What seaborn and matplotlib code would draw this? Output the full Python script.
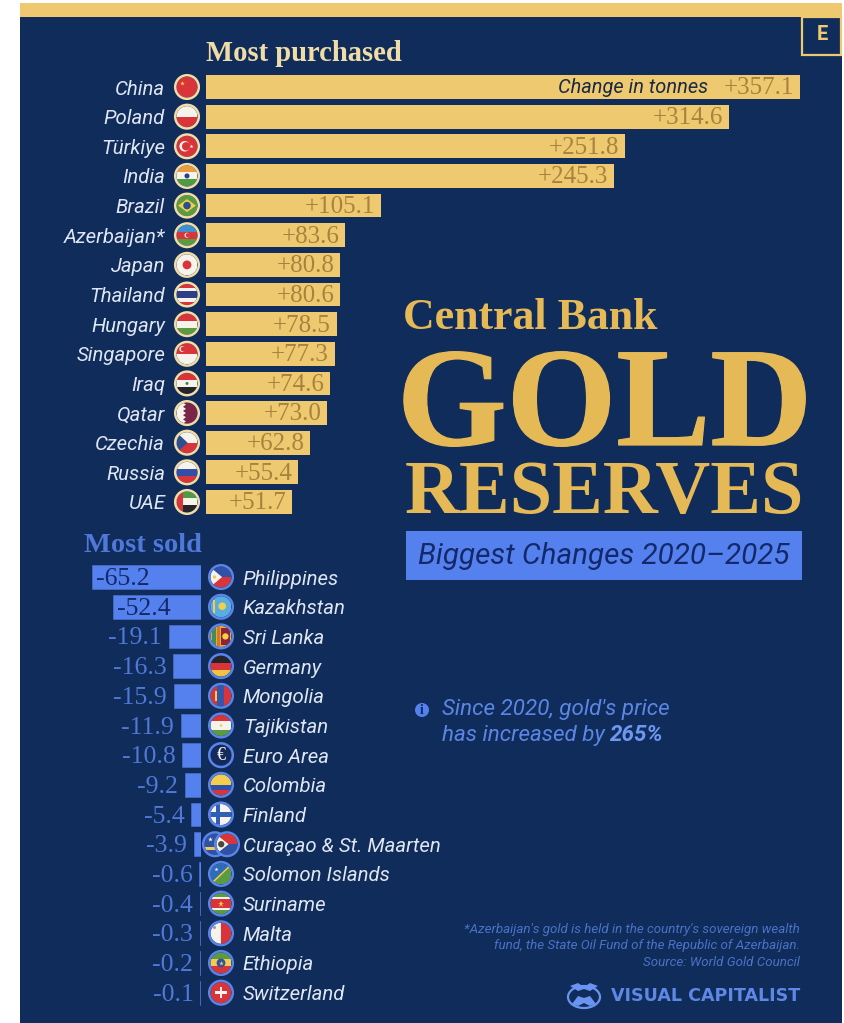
import matplotlib
matplotlib.use("Agg")
import matplotlib.pyplot as plt
import matplotlib.patheffects as pe
from matplotlib.patches import Circle, Ellipse, Polygon, Rectangle
import pandas as pd
import seaborn as sns

# ---- data -------------------------------------------------------------
buyers = ["China", "Poland", "Türkiye", "India", "Brazil", "Azerbaijan*", "Japan", "Thailand",
          "Hungary", "Singapore", "Iraq", "Qatar", "Czechia", "Russia", "UAE"]
bought = [357.1, 314.6, 251.8, 245.3, 105.1, 83.6, 80.8, 80.6, 78.5, 77.3, 74.6, 73.0, 62.8, 55.4, 51.7]
sellers = ["Philippines", "Kazakhstan", "Sri Lanka", "Germany", "Mongolia", "Tajikistan", "Euro Area",
           "Colombia", "Finland", "Curaçao & St. Maarten", "Solomon Islands", "Suriname", "Malta",
           "Ethiopia", "Switzerland"]
sold = [-65.2, -52.4, -19.1, -16.3, -15.9, -11.9, -10.8, -9.2, -5.4, -3.9, -0.6, -0.4, -0.3, -0.2, -0.1]

# ---- palette and fonts ------------------------------------------------
NAVY = "#0f2c5a"
GOLD = "#eec96f"
GOLD_TITLE = "#e6b957"
GOLD_TEXT = "#a6833e"
PALE = "#efdca6"
BLUE = "#5581ee"
BLUE_TEXT = "#4f78d8"
INK = "#14296b"
LABEL = "#dfe6f1"
SERIF = "Liberation Serif"
SANS = "Roboto"

R, W_, G_, Y, B_, K = "#d8343a", "#f6f3ec", "#5b9a3f", "#f3cd4d", "#3d5fb2", "#24242a"

W, H = 845, 1023
sns.set_theme(style="white")
plt.rcParams["font.family"] = [SANS, "DejaVu Sans"]
fig = plt.figure(figsize=(W / 100, H / 100), dpi=100, facecolor="white")


def axes_px(left, top, right, bottom, z):
    ax = fig.add_axes([left / W, 1 - bottom / H, (right - left) / W, (bottom - top) / H], zorder=z)
    ax.patch.set_alpha(0)
    return ax


# backdrop panel
back = axes_px(0, 0, W, H, 0)
back.set_xlim(0, W)
back.set_ylim(H, 0)
back.axis("off")
back.add_patch(Rectangle((20, 3), 822, 1020, fc=NAVY, ec="none"))
back.add_patch(Rectangle((20, 3), 822, 14, fc=GOLD, ec="none"))

# ---- purchased bars ---------------------------------------------------
ax_top = axes_px(206, 72.2, 806, 516.8, 1)
sns.barplot(data=pd.DataFrame({"country": buyers, "change": bought}), x="change", y="country",
            orient="h", color=GOLD, saturation=1, width=0.8, linewidth=0, ax=ax_top)
ax_top.set_xlim(0, 600 / 1.663)
ax_top.set_ylim(14.5, -0.5)

# ---- sold bars --------------------------------------------------------
ax_low = axes_px(30, 562.2, 200.5, 1007.5, 1)
sns.barplot(data=pd.DataFrame({"country": sellers, "change": sold}), x="change", y="country",
            orient="h", color=BLUE, saturation=1, width=0.8, linewidth=0.5, edgecolor="#4a6fc8", ax=ax_low)
ax_low.set_xlim(-170.5 / 1.67, 0)
ax_low.set_ylim(14.5, -0.5)
ax_low.yaxis.tick_right()

for ax, pad in ((ax_top, 29.5), (ax_low, 30.5)):
    ax.set_xlabel("")
    ax.set_ylabel("")
    ax.set_xticks([])
    sns.despine(ax=ax, left=True, right=True, top=True, bottom=True)
    ax.tick_params(axis="y", length=0, pad=pad, labelsize=14.7, labelcolor=LABEL)
    for lab in ax.get_yticklabels():
        lab.set_fontstyle("italic")

# ---- value labels -----------------------------------------------------
for i, v in enumerate(bought):
    ax_top.annotate(f"{v:+.1f}", (v, i), xytext=(-4, -1), textcoords="offset points", ha="right",
                    va="center", family=SERIF, fontsize=18, color=GOLD_TEXT)
for i, v in enumerate(sold):
    if i < 2:
        ax_low.annotate(f"{v:.1f}", (v, i), xytext=(3, -1.5), textcoords="offset points", ha="left",
                        va="center", family=SERIF, fontsize=18.5, color=INK)
    else:
        ax_low.annotate(f"{v:.1f}", (v, i), xytext=(-5, -1.5), textcoords="offset points", ha="right",
                        va="center", family=SERIF, fontsize=18.5, color=BLUE_TEXT)
ax_top.annotate("Change in tonnes", (bought[0], 0), xytext=(-66, 0), textcoords="offset points", ha="right",
                va="center", style="italic", fontsize=14.4, color="#1a2a44")

# ---- overlay: flags, titles, notes ------------------------------------
deco = axes_px(0, 0, W, H, 2)
deco.set_xlim(0, W)
deco.set_ylim(H, 0)
deco.axis("off")


def row_y(ax, i):
    return H - ax.transData.transform((0, i))[1]


def h(colors, weights=None):
    return ("h", colors, weights or [1] * len(colors))


def v(colors, weights=None):
    return ("v", colors, weights or [1] * len(colors))


def poly(color, *pts):
    return ("poly", color, pts)


def dot(color, x, y, rad):
    return ("dot", color, x, y, rad)


def star(color, x, y, size):
    return ("star", color, x, y, size)


FLAGS = {
    "China": [h([R]), star(Y, -0.45, -0.4, 3.5)],
    "Poland": [h([W_, R])],
    "Türkiye": [h([R]), dot(W_, -0.22, 0, 0.5), dot(R, -0.08, 0, 0.4), star(W_, 0.38, 0, 3)],
    "India": [h(["#ee9a3e", W_, "#4f9a45"]), dot("#2a3f8a", 0, 0, 0.24)],
    "Brazil": [h([G_]), poly(Y, (-0.85, 0), (0, -0.62), (0.85, 0), (0, 0.62)), dot("#27508f", 0, 0, 0.36)],
    "Azerbaijan*": [h(["#3f8fd0", R, G_]), dot(W_, 0, 0, 0.24), dot(R, 0.08, 0, 0.2)],
    "Japan": [h([W_]), dot(R, 0, 0, 0.42)],
    "Thailand": [h([R, W_, "#2d3f86", W_, R], [1, 1, 2, 1, 1])],
    "Hungary": [h([R, W_, G_])],
    "Singapore": [h([R, W_]), dot(W_, -0.45, -0.45, 0.28), dot(R, -0.35, -0.45, 0.24)],
    "Iraq": [h([R, W_, K]), dot("#3d7d45", 0, 0, 0.14)],
    "Qatar": [h(["#7a2448"]), poly(W_, (-1, -1), (-0.38, -1), (-0.1, -0.8), (-0.38, -0.6), (-0.1, -0.4),
                                  (-0.38, -0.2), (-0.1, 0), (-0.38, 0.2), (-0.1, 0.4), (-0.38, 0.6),
                                  (-0.1, 0.8), (-0.38, 1), (-1, 1))],
    "Czechia": [h([W_, R]), poly("#2b4f92", (-1, -1), (0.05, 0), (-1, 1))],
    "Russia": [h([W_, "#2f4fa8", R])],
    "UAE": [h(["#4f9a45", W_, K]), v([R, "#00000000"], [1, 2])],
    "Philippines": [h(["#3150a8", R]), poly(W_, (-1.1, -1), (0.1, 0), (-1.1, 1)), dot(Y, -0.62, 0, 0.16)],
    "Kazakhstan": [h(["#59aee0"]), dot(Y, 0.12, -0.05, 0.36), poly(Y, (-0.72, -0.6), (-0.58, -0.6), (-0.58, 0.6), (-0.72, 0.6))],
    "Sri Lanka": [h(["#e9a83a"]), poly("#3f8f5c", (-0.85, -1), (-0.5, -1), (-0.5, 1), (-0.85, 1)),
                  poly("#d07a2c", (-0.42, -1), (-0.1, -1), (-0.1, 1), (-0.42, 1)),
                  poly("#8c2436", (0, -0.82), (0.85, -0.82), (0.85, 0.82), (0, 0.82)), dot(Y, 0.42, 0, 0.3)],
    "Germany": [h([K, R, "#f0c341"])],
    "Mongolia": [v([R, "#3656a8", R]), poly(Y, (-0.55, -0.5), (-0.42, -0.5), (-0.42, 0.5), (-0.55, 0.5))],
    "Tajikistan": [h([R, W_, G_], [1, 1.4, 1]), dot(Y, 0, 0, 0.12)],
    "Euro Area": [h(["#14295e"])],
    "Colombia": [h([Y, "#2f4fa8", R], [2, 1, 1])],
    "Finland": [h([W_]), poly("#2f5fb4", (-0.5, -1), (-0.12, -1), (-0.12, 1), (-0.5, 1)),
                poly("#2f5fb4", (-1, -0.2), (1, -0.2), (1, 0.2), (-1, 0.2))],
    "Curaçao": [h(["#2f52a4"]), poly(Y, (-1, 0.3), (1, 0.3), (1, 0.55), (-1, 0.55)), star(W_, -0.5, -0.45, 3.5)],
    "St. Maarten": [h([R, "#2f52a4"]), poly(W_, (-1.1, -1), (0.15, 0), (-1.1, 1)), dot("#4a4a3a", -0.55, 0, 0.3)],
    "Solomon Islands": [h(["#2f6cb8"]), poly(G_, (1, -0.95), (1, 1), (-1, 1)),
                        poly(Y, (1, -1), (1, -0.82), (-0.9, 1), (-1, 0.9)), star(W_, -0.45, -0.45, 3)],
    "Suriname": [h([G_, W_, R, W_, G_], [2, 1, 4, 1, 2]), star(Y, 0, 0, 5)],
    "Malta": [v([W_, R]), dot("#9a9a9a", -0.62, -0.55, 0.14)],
    "Ethiopia": [h([G_, Y, R]), dot("#2f52a4", 0, 0, 0.42), star(Y, 0, 0, 3.5)],
    "Switzerland": [h([R]), poly(W_, (-0.14, -0.55), (0.14, -0.55), (0.14, 0.55), (-0.14, 0.55)),
                    poly(W_, (-0.55, -0.14), (0.55, -0.14), (0.55, 0.14), (-0.55, 0.14))],
}


def draw_flag(cx, cy, ring, name, r=10.5):
    clip = Circle((cx, cy), r, transform=deco.transData)
    deco.add_patch(Circle((cx, cy), r, fc=NAVY, ec="none"))
    for spec in FLAGS[name]:
        kind = spec[0]
        if kind in ("h", "v"):
            total = sum(spec[2])
            pos = -r
            for col, wt in zip(spec[1], spec[2]):
                span = 2 * r * wt / total
                if kind == "h":
                    art = Rectangle((cx - r, cy + pos), 2 * r, span, fc=col, ec="none")
                else:
                    art = Rectangle((cx + pos, cy - r), span, 2 * r, fc=col, ec="none")
                deco.add_patch(art)
                art.set_clip_path(clip)
                pos += span
        elif kind == "poly":
            art = Polygon([(cx + r * a, cy + r * b) for a, b in spec[2]], fc=spec[1], ec="none")
            deco.add_patch(art)
            art.set_clip_path(clip)
        elif kind == "dot":
            art = Circle((cx + r * spec[2], cy + r * spec[3]), r * spec[4], fc=spec[1], ec="none")
            deco.add_patch(art)
            art.set_clip_path(clip)
        elif kind == "star":
            deco.plot(cx + r * spec[2], cy + r * spec[3], marker="*", ms=spec[4], color=spec[1], mew=0)
    deco.add_patch(Circle((cx, cy), r + 1.3, fc="none", ec=ring, lw=1.8))


for i, name in enumerate(buyers):
    draw_flag(187, row_y(ax_top, i), "#f0dda8", name)
for i, name in enumerate(sellers):
    y = row_y(ax_low, i)
    if name.startswith("Curaçao"):
        draw_flag(215, y, "#5a84e8", "Curaçao")
        draw_flag(227, y, "#5a84e8", "St. Maarten")
    else:
        draw_flag(221, y, "#5a84e8", name)
deco.text(221, row_y(ax_low, sellers.index("Euro Area")), "€", ha="center", va="center",
          family=SERIF, fontsize=13, color=W_)

# section heads
deco.text(206, 61, "Most purchased", family=SERIF, weight="bold", fontsize=20.6, color=PALE)
deco.text(84, 552, "Most sold", family=SERIF, weight="bold", fontsize=20.4, color=BLUE_TEXT)

# headline
thick = [pe.withStroke(linewidth=0.9, foreground=GOLD_TITLE)]
deco.text(403, 329, "Central Bank", family=SERIF, weight="bold", fontsize=31.6, color=GOLD_TITLE)
deco.text(397, 445, "GOLD", family=SERIF, weight="bold", fontsize=101.5, color=GOLD_TITLE, path_effects=thick)
deco.text(405, 513, "RESERVES", family=SERIF, weight="bold", fontsize=54.8, color=GOLD_TITLE)

deco.add_patch(Rectangle((406, 531), 396, 48.5, fc=BLUE, ec="none"))
deco.text(418, 556, "Biggest Changes 2020–2025", ha="left", va="center", style="italic",
          fontsize=21.3, color=INK)

# brand tab
deco.add_patch(Rectangle((802.5, 17), 39, 37.5, fc=NAVY, ec=GOLD, lw=1.6))
deco.text(822.5, 35, "E", ha="center", va="center", weight="bold", fontsize=14.5, color=GOLD)

# price note
deco.add_patch(Circle((422, 710), 7, fc=BLUE, ec="none"))
deco.text(422, 710, "i", ha="center", va="center", family=SERIF, weight="bold", fontsize=10, color=NAVY)
deco.text(442, 709, "Since 2020, gold's price", ha="left", va="center", style="italic", fontsize=16.1, color="#5c86e6")
first = deco.text(442, 735, "has increased by ", ha="left", va="center", style="italic", fontsize=16.1, color="#5c86e6")
deco.annotate("265%", xy=(1, 0.5), xycoords=first, ha="left", va="center", style="italic", weight="bold",
              fontsize=16.1, color="#6f97f2")

# footnote
notes = ["*Azerbaijan's gold is held in the country's sovereign wealth",
         "fund, the State Oil Fund of the Republic of Azerbaijan.",
         "Source: World Gold Council"]
for y, line in zip((929, 946, 962), notes):
    deco.text(800, y, line, ha="right", va="center", style="italic", fontsize=9.6, color="#4a72c8")

# publisher mark
LOGO = "#6b93f0"
deco.add_patch(Ellipse((584, 997), 32, 22, fc="none", ec=LOGO, lw=1.6))
deco.add_patch(Polygon([(570, 986), (578, 983), (584, 987), (590, 983), (598, 986), (590, 991), (584, 989), (578, 991)],
                       fc=LOGO, ec="none"))
deco.add_patch(Polygon([(572, 1004), (578, 996), (584, 998), (590, 996), (596, 1004), (590, 1006), (584, 1003), (578, 1006)],
                       fc=LOGO, ec="none"))
deco.text(800, 996, "VISUAL CAPITALIST", ha="right", va="center", family="DejaVu Sans", weight="bold",
          fontsize=12.6, color="#5f88e6")

fig.savefig("out.png", dpi=100, facecolor="white")
